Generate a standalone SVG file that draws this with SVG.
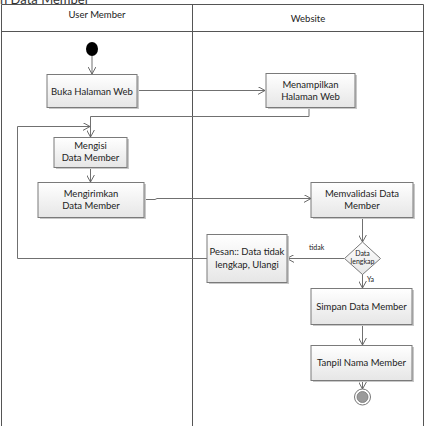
<svg xmlns="http://www.w3.org/2000/svg" width="425" height="426" viewBox="0 0 425 426">
<defs>
<linearGradient id="g" x1="0" y1="0" x2="0" y2="1">
<stop offset="0" stop-color="#ffffff"/>
<stop offset="1" stop-color="#e6e6e6"/>
</linearGradient>
<marker id="a" viewBox="0 0 10 10" refX="9" refY="5" markerWidth="8" markerHeight="8" orient="auto" markerUnits="userSpaceOnUse">
<path d="M0,0 L9,5 L0,10" fill="none" stroke="#606060" stroke-width="1.2"/>
</marker>
</defs>
<style>
.box{fill:url(#g);stroke:#7a7a7a;stroke-width:1}
.sh{fill:#c8c8c8}
.t{font-family:Lato,"Open Sans",sans-serif;font-size:9.5px;fill:#222;text-anchor:middle}
.h{font-family:Lato,"Open Sans",sans-serif;font-size:9.5px;fill:#222;text-anchor:middle}
.s{font-family:Lato,"Open Sans",sans-serif;font-size:7px;fill:#222}
.c{fill:none;stroke:#707070;stroke-width:1}
.lane{fill:none;stroke:#555;stroke-width:1}
</style>
<rect width="425" height="426" fill="#fff"/>
<text x="0" y="3.5" font-family="Lato,sans-serif" font-size="13" fill="#333">n Data Member</text>
<g id="swimlanes">
<path class="lane" d="M1.5,426 V4.5 H423.5 V426 M1.5,31.5 H423.5 M192.5,4.5 V426"/>
<text class="h" x="97" y="18">User Member</text>
<text class="h" x="308" y="22">Website</text>
</g>
<g id="connectors">
<path class="c" d="M92,56 V74" marker-end="url(#a)"/>
<path class="c" d="M137,90.5 H265" marker-end="url(#a)"/>
<path class="c" d="M309,107 V116.5 H90.5 V137" marker-end="url(#a)"/>
<path class="c" d="M207,258.5 H17.5 V126.5 H90" marker-end="url(#a)"/>
<path class="c" d="M90.5,167 V182" marker-end="url(#a)"/>
<path class="c" d="M144,199.5 H155 L157,198.5 H311" marker-end="url(#a)"/>
<path class="c" d="M362.5,217 V242" marker-end="url(#a)"/>
<path class="c" d="M344,258.5 H287" marker-end="url(#a)"/>
<path class="c" d="M362.5,274 V288" marker-end="url(#a)"/>
<path class="c" d="M362.5,324 V345" marker-end="url(#a)"/>
<path class="c" d="M362.5,380 V389" marker-end="url(#a)"/>
<text class="s" x="309" y="250">tidak</text>
<text class="s" x="367" y="282">Ya</text>
</g>
<g id="start">
<ellipse cx="92" cy="49" rx="6" ry="7" fill="#000"/>
</g>
<g id="buka">
<rect class="sh" x="49" y="76" width="90" height="33"/>
<rect class="box" x="47" y="74.5" width="90" height="33"/>
<text class="t" x="92" y="94.5">Buka Halaman Web</text>
</g>
<g id="menampilkan">
<rect class="sh" x="268" y="75" width="89" height="34"/>
<rect class="box" x="266" y="73.5" width="89" height="34"/>
<text class="t" x="310.5" y="88">Menampilkan</text>
<text class="t" x="310.5" y="100">Halaman Web</text>
</g>
<g id="mengisi">
<rect class="sh" x="56" y="139" width="73" height="30"/>
<rect class="box" x="54" y="137.5" width="73" height="30"/>
<text class="t" x="90.5" y="149">Mengisi</text>
<text class="t" x="90.5" y="161">Data Member</text>
</g>
<g id="mengirimkan">
<rect class="sh" x="40" y="184" width="106" height="35"/>
<rect class="box" x="38" y="182.5" width="106" height="35"/>
<text class="t" x="91" y="197">Mengirimkan</text>
<text class="t" x="91" y="209">Data Member</text>
</g>
<g id="memvalidasi">
<rect class="sh" x="313" y="184" width="102" height="35"/>
<rect class="box" x="311" y="182.5" width="102" height="35"/>
<text class="t" x="362" y="197">Memvalidasi Data</text>
<text class="t" x="362" y="209">Member</text>
</g>
<g id="decision">
<polygon points="362.5,242 380.5,258.5 362.5,274.5 344.5,258.5" fill="url(#g)" stroke="#7a7a7a"/>
<text class="s" x="362.5" y="256" font-size="5.5" text-anchor="middle">Data</text>
<text class="s" x="362.5" y="264" font-size="5.5" text-anchor="middle">lengkap</text>
</g>
<g id="pesan">
<rect class="sh" x="209" y="236" width="80" height="48"/>
<rect class="box" x="207" y="234.5" width="80" height="48"/>
<text class="t" x="247" y="255">Pesan:: Data tidak</text>
<text class="t" x="247" y="268">lengkap, Ulangi</text>
</g>
<g id="simpan">
<rect class="sh" x="313" y="290" width="101" height="36"/>
<rect class="box" x="311" y="288.5" width="101" height="36"/>
<text class="t" x="361.5" y="310">Simpan Data Member</text>
</g>
<g id="tanpil">
<rect class="sh" x="313" y="347" width="101" height="35"/>
<rect class="box" x="311" y="345.5" width="101" height="35"/>
<text class="t" x="361.5" y="366">Tanpil Nama Member</text>
</g>
<g id="end">
<circle cx="362.5" cy="397" r="8" fill="#fff" stroke="#777" stroke-width="1"/>
<circle cx="362.5" cy="397" r="5.5" fill="#9a9a9a" stroke="#777" stroke-width="0.8"/>
</g>
</svg>
